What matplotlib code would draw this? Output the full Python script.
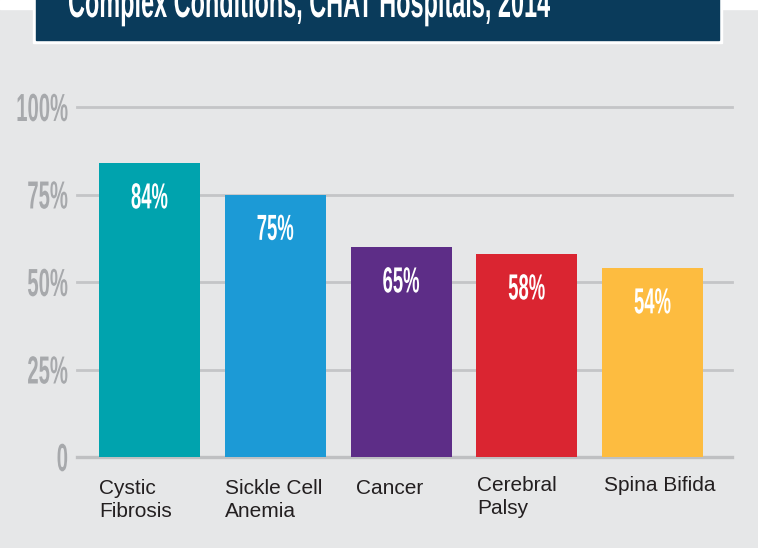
import matplotlib
matplotlib.use('Agg')
import matplotlib.pyplot as plt
import matplotlib.patheffects as pe
from matplotlib.patches import Rectangle
from matplotlib.transforms import Affine2D

# data
categories = ['Cystic\nFibrosis', 'Sickle Cell\nAnemia', 'Cancer', 'Cerebral\nPalsy', 'Spina Bifida']
heights = [84, 75, 60, 58, 54]
value_labels = ['84%', '75%', '65%', '58%', '54%']
colors = ['#00a3ae', '#1c9ad6', '#5d2d87', '#da2531', '#fdbc40']
yticks = [0, 25, 50, 75, 100]
ytick_labels = ['0', '25%', '50%', '75%', '100%']
title = 'Complex Conditions, CHAT Hospitals, 2014'

BG = '#e6e7e8'
NAVY = '#0a3b5b'
label_dx = [0, 0, 5, 1, 2]      # small nudges of the category labels (pixels)
label_dy = [0, 0, 0, 3, 3]


class Tall(pe.AbstractPathEffect):
    """stretch text vertically so it looks like a condensed face"""
    def __init__(self, sy, anchor='center'):
        super().__init__()
        self.sy = sy
        self.anchor = anchor

    def draw_path(self, renderer, gc, tpath, affine, rgbFace=None):
        ext = tpath.get_extents(affine)
        if self.anchor == 'top':
            cy = ext.y1
        elif self.anchor == 'baseline':
            cy = affine.get_matrix()[1, 2]
        else:
            cy = (ext.y0 + ext.y1) / 2
        t = affine + Affine2D().translate(0, -cy).scale(1, self.sy).translate(0, cy)
        renderer.draw_path(gc, tpath, t, rgbFace)


W, H = 758, 548
fig = plt.figure(figsize=(W / 100, H / 100), dpi=100, facecolor=BG)

# white strip at the very top + title box
fig.patches.append(Rectangle((0, 1 - 9 / H), 1, 9 / H, transform=fig.transFigure,
                             color='white', zorder=0))
fig.patches.append(Rectangle((33 / W, 1 - 43 / H), 689 / W, 43 / H + 0.01,
                             transform=fig.transFigure, color='white', zorder=1))
fig.patches.append(Rectangle((36 / W, 1 - 40 / H), 683 / W, 40 / H + 0.01,
                             transform=fig.transFigure, color=NAVY, zorder=2))
fig.text(68 / W, 1 - 17 / H, title, color='white', fontsize=16.9, fontweight='bold',
         family='Liberation Sans', ha='left', va='baseline', zorder=3,
         path_effects=[Tall(1.92, 'baseline')])

ax = fig.add_axes([77 / W, 91 / H, 655 / W, 350 / H])
ax.set_facecolor('none')

x = list(range(len(categories)))
for v in yticks:
    ax.axhline(v, color='#bfc0c2' if v == 0 else '#c4c5c7', lw=2.4 if v == 0 else 2.0,
               zorder=0, clip_on=False)

bar_w = 0.803
ax.bar(x, heights, width=bar_w, color=colors, zorder=2)

for i, (h, lbl) in enumerate(zip(heights, value_labels)):
    ax.annotate(lbl, xy=(i, h), xytext=(0, -20), textcoords='offset pixels',
                ha='center', va='top', color='white', fontsize=13.3, fontweight='bold',
                family='Liberation Sans', zorder=3,
                path_effects=[Tall(1.96, 'top')])

for i, name in enumerate(categories):
    ax.annotate(name, xy=(i - bar_w / 2, 0), xytext=(label_dx[i], -22 + label_dy[i]),
                textcoords='offset pixels', ha='left', va='top', color='#231f20',
                fontsize=15, family='Liberation Sans', linespacing=1.25,
                annotation_clip=False)

ax.set_xlim(-0.5765, 4.632)
ax.set_ylim(0, 100)
ax.set_xticks([])
ax.set_yticks(yticks)
ax.set_yticklabels(ytick_labels)
ax.tick_params(axis='y', length=0, pad=6.5)
for t in ax.get_yticklabels():
    t.set_fontsize(14.6)
    t.set_fontweight('bold')
    t.set_family('Liberation Sans')
    t.set_color('#a7a9ac')
    t.set_path_effects([Tall(1.93, 'center')])
for s in ax.spines.values():
    s.set_visible(False)

fig.savefig('out.png', dpi=100, facecolor=BG)
